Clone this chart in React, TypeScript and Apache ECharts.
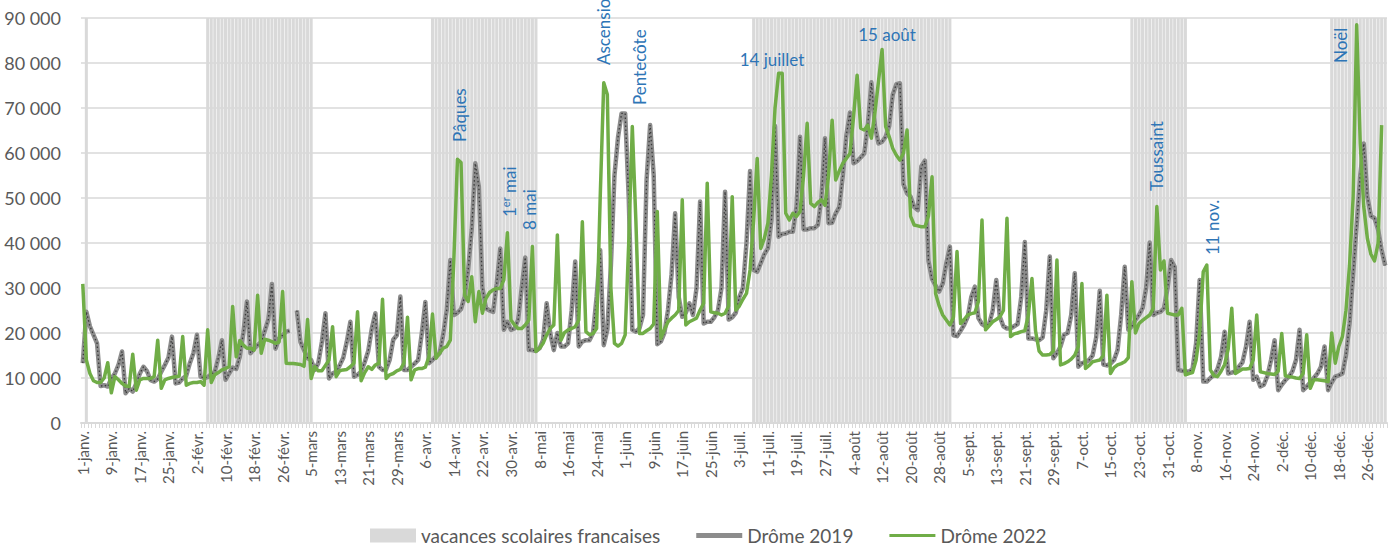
import React, { useEffect, useRef } from "react";
import * as echarts from "echarts";

// ---- Categories (day-month labels, leap-year calendar as on the axis) ----
const monthNames = ["janv.", "févr.", "mars", "avr.", "mai", "juin", "juil.", "août", "sept.", "oct.", "nov.", "déc."];
const monthDays = [31, 29, 31, 30, 31, 30, 31, 31, 30, 31, 30, 31];
const categories: string[] = [];
monthNames.forEach((m, k) => {
  for (let d = 1; d <= monthDays[k]; d++) categories.push(`${d}-${m}`);
});

// ---- Drôme 2019 (thousands), by category (29 Feb empty) ----
const drome2019: (number | null)[] = [
  13.3, 24.7, 21.5, 19.6, 17.7, 8.2, 8.4,
  8.1, 9.9, 11.0, 12.9, 15.9, 6.6, 7.7,
  7.0, 8.8, 11.0, 12.5, 11.5, 9.5, 9.2,
  9.8, 11.4, 12.9, 14.5, 19.2, 8.8, 9.0,
  9.9, 10.5, 13.3, 15.5, 19.6, 10.3, 10.0,
  10.2, 10.8, 11.4, 14.5, 18.4, 9.6, 11.0,
  12.3, 12.0, 14.7, 20.0, 27.0, 15.5, 16.5,
  17.3, 18.0, 20.5, 23.0, 30.9, 16.5, 18.8,
  19.5, 20.3, 20.5, null, 25.0, 18.0, 16.2,
  14.4, 14.0, 11.8, 13.3, 18.0, 24.4, 9.9,
  11.0, 11.4, 12.8, 14.5, 18.1, 22.5, 10.3,
  10.7, 11.4, 13.5, 16.0, 21.0, 24.4, 12.5,
  11.8, 11.9, 14.0, 18.5, 19.5, 28.1, 11.8,
  11.8, 12.5, 13.2, 14.0, 19.9, 26.9, 13.3,
  14.0, 14.8, 15.5, 19.6, 25.1, 36.2, 24.0,
  24.5, 25.3, 28.0, 34.0, 43.0, 57.7, 52.5,
  30.0, 25.5, 25.0, 24.7, 31.0, 38.8, 20.7,
  22.5, 20.7, 21.0, 22.9, 30.0, 36.8, 16.2,
  16.2, 16.0, 16.6, 18.4, 26.6, 20.0, 16.2,
  20.0, 17.0, 17.0, 17.7, 25.0, 35.9, 17.0,
  18.1, 18.4, 18.4, 20.0, 28.0, 38.4, 17.3,
  20.7, 35.0, 55.0, 63.5, 68.8, 68.8, 50.0,
  20.7, 20.3, 21.0, 24.0, 54.0, 66.2, 55.0,
  17.5, 18.1, 20.0, 25.1, 33.0, 46.6, 28.0,
  23.6, 24.5, 26.6, 24.0, 30.0, 49.2, 22.1,
  22.5, 22.5, 23.5, 25.0, 30.0, 51.4, 23.0,
  23.5, 24.5, 28.0, 30.0, 40.0, 56.0, 34.0,
  33.6, 35.5, 37.5, 38.8, 45.0, 66.0, 41.4,
  42.0, 42.1, 42.5, 42.5, 48.0, 63.6, 43.0,
  43.0, 43.3, 43.3, 44.0, 50.0, 63.3, 44.4,
  44.5, 46.6, 48.0, 55.0, 64.0, 69.0, 57.7,
  58.2, 59.0, 59.9, 66.2, 75.7, 66.0, 62.1,
  62.5, 63.6, 66.0, 73.0, 75.3, 75.5, 53.0,
  51.0, 50.3, 48.0, 47.3, 57.0, 58.3, 36.0,
  32.0, 30.5, 29.2, 31.0, 35.5, 39.2, 19.5,
  19.3, 20.5, 21.8, 23.6, 28.0, 30.3, 23.3,
  22.0, 21.5, 22.0, 25.0, 31.8, 23.6, 21.5,
  21.0, 21.0, 21.5, 22.0, 28.0, 40.2, 18.8,
  18.8, 18.6, 18.4, 19.0, 25.0, 37.0, 14.4,
  15.5, 17.0, 19.6, 20.0, 24.0, 33.3, 12.5,
  13.3, 13.5, 14.0, 15.0, 19.0, 29.4, 13.0,
  12.8, 13.2, 14.0, 16.2, 24.0, 34.7, 20.7,
  21.5, 22.9, 24.0, 25.5, 30.0, 40.1, 24.0,
  24.5, 24.7, 25.5, 30.0, 36.2, 34.7, 11.8,
  11.6, 11.5, 11.4, 12.0, 17.7, 31.8, 9.2,
  9.2, 10.0, 10.7, 12.0, 14.7, 20.3, 11.0,
  11.2, 11.5, 12.5, 13.5, 17.0, 22.5, 9.6,
  10.3, 8.1, 8.5, 10.5, 14.0, 18.4, 7.3,
  8.5, 9.5, 10.3, 11.5, 14.0, 20.7, 7.3,
  8.1, 9.0, 10.0, 11.0, 12.5, 17.0, 7.3,
  9.0, 10.3, 10.6, 11.0, 15.0, 22.0, 33.0,
  44.0, 55.0, 62.1, 50.3, 46.0, 45.5, 43.0,
  38.4, 35.0,
];

// ---- Drôme 2022 (thousands), 365 consecutive days ----
const drome2022: number[] = [
  30.9, 14.0, 11.0, 9.4, 9.0, 9.0, 10.0,
  13.4, 6.7, 10.3, 9.6, 8.8, 8.2, 8.1,
  15.3, 7.3, 9.6, 9.9, 9.9, 9.9, 10.3,
  18.4, 7.7, 9.6, 9.9, 10.1, 10.3, 10.4,
  19.2, 8.4, 8.8, 9.0, 9.0, 9.2, 8.4,
  20.7, 9.0, 10.7, 11.2, 11.8, 12.1, 12.5,
  25.9, 14.7, 18.3, 17.3, 16.6, 16.6, 16.2,
  28.4, 15.5, 18.6, 18.4, 18.1, 17.7, 18.0,
  29.2, 13.3, 13.2, 13.2, 13.1, 13.0, 12.6,
  23.0, 9.9, 12.5, 11.6, 11.6, 12.8, 14.0,
  21.4, 10.3, 11.6, 11.8, 11.9, 12.5, 13.3,
  24.7, 9.4, 11.2, 12.5, 11.9, 12.9, 13.3,
  27.5, 9.9, 10.7, 11.0, 11.6, 11.9, 13.3,
  23.5, 9.6, 11.8, 12.1, 12.1, 12.4, 14.7,
  24.2, 14.4, 15.5, 16.6, 17.0, 18.4, 36.6,
  58.6, 57.9, 28.4, 27.0, 32.5, 22.5, 29.2,
  24.4, 27.7, 29.0, 29.6, 29.9, 29.9, 31.8,
  42.3, 22.9, 21.8, 21.0, 21.0, 21.8, 22.9,
  39.2, 15.9, 16.6, 17.7, 19.6, 21.0, 21.8,
  41.8, 18.4, 20.1, 20.7, 21.0, 21.4, 22.9,
  44.7, 20.3, 19.6, 19.9, 21.0, 50.0, 75.6,
  73.0, 30.0, 17.7, 17.1, 17.7, 19.6, 40.0,
  65.9, 45.0, 19.9, 19.9, 20.5, 21.0, 22.0,
  47.0, 18.8, 20.7, 22.5, 23.3, 24.0, 25.0,
  49.6, 21.8, 22.5, 22.9, 23.3, 25.1, 26.6,
  53.3, 24.7, 24.5, 24.4, 24.0, 24.4, 26.0,
  50.3, 25.1, 26.0, 27.5, 28.8, 34.0, 45.0,
  58.8, 38.8, 41.0, 44.4, 55.0, 70.0, 77.7,
  77.7, 46.6, 45.1, 46.6, 45.9, 47.0, 55.0,
  66.6, 48.8, 48.1, 49.0, 49.6, 48.4, 55.0,
  67.3, 54.0, 56.0, 57.7, 58.8, 59.9, 68.0,
  77.3, 65.5, 65.1, 66.2, 63.3, 69.0, 76.0,
  83.0, 65.9, 63.6, 61.0, 59.5, 58.4, 60.0,
  65.1, 45.9, 44.0, 43.8, 43.6, 43.6, 46.0,
  54.7, 28.8, 26.0, 24.0, 22.9, 21.8, 23.5,
  38.1, 22.1, 23.0, 24.0, 24.3, 24.5, 27.0,
  45.1, 20.7, 21.6, 22.5, 23.0, 23.6, 25.0,
  45.5, 19.2, 19.8, 20.0, 20.3, 20.5, 24.0,
  32.1, 20.5, 16.0, 15.1, 15.1, 15.2, 16.0,
  36.2, 12.9, 13.2, 13.6, 14.2, 15.1, 17.0,
  31.0, 12.1, 12.8, 13.6, 13.8, 14.0, 15.0,
  28.4, 11.0, 12.3, 12.9, 13.2, 13.6, 14.5,
  31.4, 20.0, 22.1, 22.8, 23.4, 24.0, 25.5,
  48.1, 34.0, 36.0, 24.4, 24.2, 24.0, 24.0,
  25.5, 10.7, 11.0, 11.2, 14.0, 20.0, 33.6,
  35.1, 11.8, 10.5, 10.3, 11.5, 13.0, 16.5,
  25.5, 11.0, 11.5, 12.0, 12.0, 12.1, 14.0,
  24.0, 11.4, 11.2, 11.0, 10.9, 10.8, 11.5,
  19.9, 10.5, 10.3, 10.2, 10.0, 9.9, 11.0,
  19.6, 7.7, 9.6, 9.6, 9.5, 9.4, 9.2,
  20.0, 13.3, 17.0, 19.2, 25.0, 35.0, 50.0,
  88.5, 62.0, 48.0, 41.0, 37.5, 36.0, 39.9,
  66.2,
];

// ---- French school holidays: [first, last] category index ----
const vacationRanges: [number, number][] = [
  [1, 1], [35, 64], [98, 127], [188, 243], [294, 309], [350, 365],
];
const vacationLevel = 90000;

// ---- Y ticks ----
const yMax = 90000;
const yStep = 10000;

const FONT = "Lato, 'Noto Sans', sans-serif";
const TXT = "#595959";
const BLUE = "#2e75b6";

const annotations = [
  { text: "Pâques", x: 459, y: 142, rot: true },
  { text: "1{sup|er} mai", x: 509, y: 217, rot: true },
  { text: "8 mai", x: 529, y: 230, rot: true },
  { text: "Ascension", x: 603, y: 65, rot: true },
  { text: "Pentecôte", x: 639, y: 105, rot: true },
  { text: "14 juillet", x: 772, y: 59, rot: false },
  { text: "15 août", x: 887, y: 34, rot: false },
  { text: "Toussaint", x: 1156, y: 191, rot: true },
  { text: "11 nov.", x: 1212, y: 255, rot: true },
  { text: "Noël", x: 1340, y: 63, rot: true },
];

// legend line icons (bounding box 46x14 kept by the outer move-to points)
const ICON_2019 = "path://M0,0 M0,4.5 L46,4.5 L46,9.5 L0,9.5 Z M46,14";
const ICON_2022 = "path://M0,0 M0,5.5 L46,5.5 L46,8.5 L0,8.5 Z M46,14";

export default function App() {
  const ref = useRef<HTMLDivElement>(null);

  useEffect(() => {
    if (!ref.current) return;
    const chart = echarts.init(ref.current, undefined, { renderer: "svg" });

    const vacData = categories.map((_, i) =>
      vacationRanges.some(([a, b]) => i >= a && i <= b) ? vacationLevel : null
    );
    const s2019 = drome2019.map((v) => (v === null ? null : v * 1000));
    const s2022 = drome2022.map((v) => v * 1000);

    const graphics = annotations.map((a) => ({
      type: "text",
      x: a.x,
      y: a.y,
      z: 100,
      rotation: a.rot ? Math.PI / 2 : 0,
      silent: true,
      style: {
        text: a.text,
        fill: BLUE,
        font: `17px ${FONT}`,
        align: a.rot ? "left" : "center",
        verticalAlign: "middle",
        textAlign: a.rot ? "left" : "center",
        textVerticalAlign: "middle",
        rich: {
          sup: { fontSize: 11, fontFamily: FONT, fill: BLUE, verticalAlign: "top", padding: [0, 0, 8, 0] },
        },
      },
    }));

    chart.setOption({
      animation: false,
      backgroundColor: "#ffffff",
      grid: { left: 81, right: 7, top: 18, bottom: 125, containLabel: false },
      legend: {
        left: 365,
        top: 521,
        itemWidth: 46,
        itemHeight: 14,
        itemGap: 36,
        textStyle: { color: TXT, fontSize: 19, fontFamily: FONT },
        data: [
          { name: "vacances scolaires francaises", icon: "rect" },
          { name: "Drôme 2019", icon: ICON_2019 },
          { name: "Drôme 2022", icon: ICON_2022 },
        ],
      },
      xAxis: {
        type: "category",
        data: categories,
        boundaryGap: true,
        axisLine: { show: true, lineStyle: { color: "#d9d9d9", width: 2 } },
        axisTick: { show: true, interval: 0, length: 5, lineStyle: { color: "#d9d9d9" } },
        axisLabel: { interval: 7, rotate: 90, color: TXT, fontSize: 15, fontFamily: FONT, margin: 8 },
        splitLine: { show: false },
      },
      yAxis: {
        type: "value",
        min: 0,
        max: yMax,
        interval: yStep,
        axisLine: { show: false },
        axisTick: { show: false },
        axisLabel: {
          color: TXT,
          fontSize: 18,
          fontFamily: FONT,
          margin: 20,
          formatter: (v: number) => (v === 0 ? "0" : `${v / 1000} 000`),
        },
        splitLine: { lineStyle: { color: "#d9d9d9", width: 1.5 } },
      },
      series: [
        {
          name: "vacances scolaires francaises",
          type: "bar",
          data: vacData,
          barCategoryGap: "15%",
          itemStyle: { color: "#d9d9d9" },
          silent: true,
        },
        {
          name: "Drôme 2019",
          type: "line",
          data: s2019,
          symbol: "none",
          connectNulls: false,
          lineStyle: { color: "#8c8c8c", width: 4.5, join: "round" },
          itemStyle: { color: "#8c8c8c" },
        },
        {
          name: "2019-texture",
          type: "line",
          data: s2019,
          symbol: "none",
          connectNulls: false,
          lineStyle: { color: "#3a3a3a", width: 1.3, type: [1.5, 2.5] },
          itemStyle: { color: "#3a3a3a" },
        },
        {
          name: "Drôme 2022",
          type: "line",
          data: s2022,
          symbol: "none",
          lineStyle: { color: "#70ad47", width: 3.5, join: "round" },
          itemStyle: { color: "#70ad47" },
        },
      ],
      graphic: graphics,
    });

    return () => chart.dispose();
  }, []);

  return (
    <div
      ref={ref}
      style={{ position: "fixed", left: 0, top: 0, width: 1394, height: 548, background: "#fff" }}
    />
  );
}
